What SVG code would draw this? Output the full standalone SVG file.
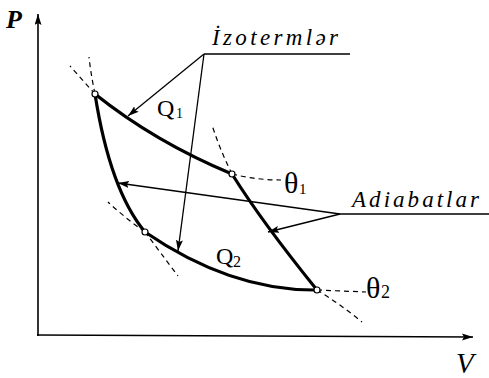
<svg xmlns="http://www.w3.org/2000/svg" width="489" height="378" viewBox="0 0 489 378">
<defs>
<marker id="ah" markerUnits="userSpaceOnUse" markerWidth="12" markerHeight="8" refX="11" refY="3.5" orient="auto">
<path d="M0,0 L11,3.5 L0,7 L2,3.5 z" fill="#000"/>
</marker>
<style>
.axis{stroke:#000;stroke-width:1.6;fill:none}
.thick{stroke:#000;stroke-width:3.2;fill:none;stroke-linecap:round}
.dash{stroke:#000;stroke-width:1.2;fill:none;stroke-dasharray:5 4}
.lead{stroke:#000;stroke-width:1.3;fill:none}
.pt{fill:#fff;stroke:#000;stroke-width:1.2}
.lab{font-family:"Liberation Serif",serif;font-style:italic;fill:#000}
.sym{font-family:"Liberation Serif",serif;fill:#000}
</style>
</defs>
<rect width="489" height="378" fill="#fff"/>
<g id="axes">
<line class="axis" x1="38" y1="336" x2="38" y2="14" marker-end="url(#ah)"/>
<line class="axis" x1="37" y1="335" x2="473" y2="337" marker-end="url(#ah)"/>
<text class="lab" x="6" y="28" font-size="26" font-weight="bold">P</text>
<text class="lab" x="456" y="373" font-size="29">V</text>
</g>
<g id="cycle">
<path id="isotherm1" class="thick" d="M95,94 Q155,142 232,174"/>
<path id="adiabat1" class="thick" d="M232,174 Q262,222 317,290"/>
<path id="isotherm2" class="thick" d="M145,232 Q231,291 317,290"/>
<path id="adiabat2" class="thick" stroke-width="3.6" d="M95,94 Q110,190 145,232"/>
</g>
<g id="extensions">
<path class="dash" d="M95,94 L70,66"/>
<path class="dash" d="M95,94 Q91,75 89,57"/>
<path class="dash" d="M232,174 Q220,150 212,125"/>
<path class="dash" d="M232,174 Q256,180 281,180"/>
<path class="dash" d="M145,232 Q125,218 108,202"/>
<path class="dash" d="M145,232 Q160,252 178,276"/>
<path class="dash" d="M317,290 L366,292"/>
<path class="dash" d="M317,290 Q340,304 362,322"/>
</g>
<g id="points">
<circle class="pt" cx="95" cy="94" r="3"/>
<circle class="pt" cx="232" cy="174" r="3"/>
<circle class="pt" cx="317" cy="290" r="3"/>
<circle class="pt" cx="145" cy="232" r="3"/>
</g>
<g id="label-izotermler">
<text class="lab" x="212" y="45" font-size="23" textLength="126" lengthAdjust="spacing">İzotermlər</text>
</g>
<g id="label-adiabatlar">
<text class="lab" x="352" y="207" font-size="23" textLength="127" lengthAdjust="spacing">Adiabatlar</text>
</g>
<g id="connectors">
<line class="lead" x1="204" y1="54" x2="350" y2="54"/>
<line class="lead" x1="204" y1="54" x2="128" y2="116" marker-end="url(#ah)"/>
<line class="lead" x1="204" y1="54" x2="178" y2="251" marker-end="url(#ah)"/>
<line class="lead" x1="340" y1="214" x2="489" y2="214"/>
<line class="lead" x1="340" y1="214" x2="118" y2="183" marker-end="url(#ah)"/>
<line class="lead" x1="340" y1="214" x2="268" y2="232" marker-end="url(#ah)"/>
</g>
<g id="label-Q1">
<text class="sym" x="157" y="116" font-size="24">Q</text>
<text class="sym" x="176" y="118" font-size="14">1</text>
</g>
<g id="label-Q2">
<text class="sym" x="216" y="264" font-size="24">Q</text>
<text class="sym" x="233" y="267" font-size="16">2</text>
</g>
<g id="label-theta1">
<text class="sym" x="284" y="193" font-size="30">θ</text>
<text class="sym" x="299" y="194" font-size="15">1</text>
</g>
<g id="label-theta2">
<text class="sym" x="366" y="298" font-size="30">θ</text>
<text class="sym" x="381" y="298" font-size="18">2</text>
</g>
</svg>
